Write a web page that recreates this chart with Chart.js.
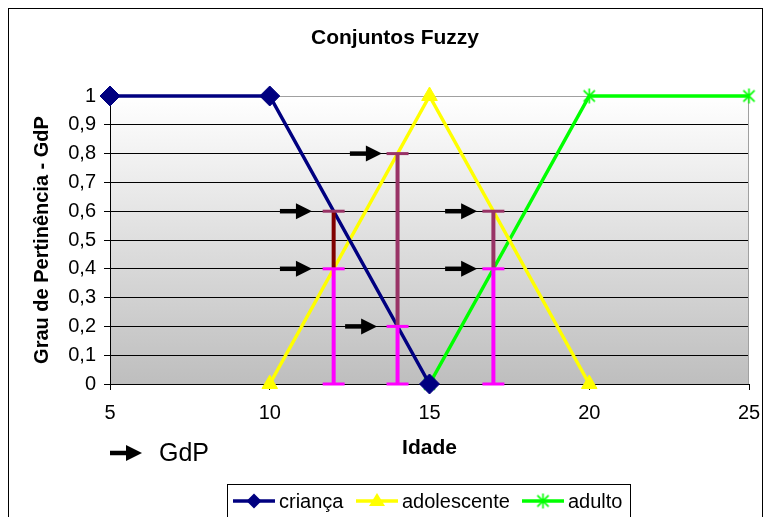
<!DOCTYPE html>
<html>
<head>
<meta charset="utf-8">
<script src="https://cdn.jsdelivr.net/npm/chart.js@4.4.1/dist/chart.umd.min.js"></script>
<style>
  html, body { margin: 0; padding: 0; background: #fff; }
  #wrap { width: 765px; height: 517px; position: relative; }
</style>
</head>
<body>
<div id="wrap"><canvas id="c" width="765" height="517"></canvas></div>
<script>
// Membership functions (age -> degree of membership)
const criancaX = [5, 10, 15];
const criancaY = [1, 1, 0];
const adolescenteX = [10, 15, 20];
const adolescenteY = [0, 1, 0];
const adultoX = [15, 20, 25];
const adultoY = [0, 1, 1];

// Axis ticks
const xTicks = [5, 10, 15, 20, 25];
const yTickLabels = ['0', '0,1', '0,2', '0,3', '0,4', '0,5', '0,6', '0,7', '0,8', '0,9', '1'];

// Degree-of-membership ranges shown at sample ages
const gdpAges = [12, 14, 17];
const gdpLower = [0.4, 0.2, 0.4];
const gdpUpper = [0.6, 0.8, 0.6];

// Arrow markers (tip age, degree)
const arrowTipX = [11.32, 11.32, 13.51, 13.36, 16.49, 16.49];
const arrowY = [0.6, 0.4, 0.8, 0.2, 0.6, 0.4];

const FONT = '"Liberation Sans", Arial, sans-serif';
const NAVY = '#000080', YELLOW = '#FFFF00', GREEN = '#00FF00';
const MAGENTA = '#FF00FF';
const upperColors = ['#800000', '#993366', '#993366'];
const upperCapColor = '#993366';

function toPoints(xs, ys) { return xs.map((x, i) => ({ x: x, y: ys[i] })); }

// asterisk marker: X plus vertical stroke
function makeStar(size, color) {
  const c = document.createElement('canvas');
  c.width = size; c.height = size;
  const g = c.getContext('2d');
  g.strokeStyle = color; g.lineWidth = 1.6;
  const m = size / 2, r = size / 2 - 1;
  g.beginPath();
  g.moveTo(m - r * 0.75, m - r * 0.75); g.lineTo(m + r * 0.75, m + r * 0.75);
  g.moveTo(m + r * 0.75, m - r * 0.75); g.lineTo(m - r * 0.75, m + r * 0.75);
  g.moveTo(m, m - r); g.lineTo(m, m + r);
  g.stroke();
  return c;
}
const starImg = makeStar(17, GREEN);

function drawArrow(ctx, tipX, y, len) {
  ctx.save();
  ctx.fillStyle = '#000';
  ctx.strokeStyle = '#000';
  ctx.lineWidth = 4.5;
  ctx.beginPath();
  ctx.moveTo(tipX - len, y);
  ctx.lineTo(tipX - 13, y);
  ctx.stroke();
  ctx.beginPath();
  ctx.moveTo(tipX, y);
  ctx.lineTo(tipX - 16, y - 8);
  ctx.lineTo(tipX - 16, y + 8);
  ctx.closePath();
  ctx.fill();
  ctx.restore();
}

const decorPlugin = {
  id: 'decor',
  beforeDraw(chart) {
    const { ctx, chartArea: a } = chart;
    ctx.save();
    const grad = ctx.createLinearGradient(0, a.top, 0, a.bottom);
    grad.addColorStop(0, '#FFFFFF');
    grad.addColorStop(1, '#BEBEBE');
    ctx.fillStyle = grad;
    ctx.fillRect(a.left, a.top, a.right - a.left, a.bottom - a.top);
    // outer frame
    ctx.strokeStyle = '#000';
    ctx.lineWidth = 1;
    ctx.strokeRect(8.5, 8.5, 754, 530);
    // title
    ctx.fillStyle = '#000';
    ctx.font = 'bold 21px ' + FONT;
    ctx.textAlign = 'center';
    ctx.textBaseline = 'middle';
    ctx.fillText('Conjuntos Fuzzy', 395, 38);
    ctx.restore();
  },
  beforeDatasetsDraw(chart) {
    const { ctx, chartArea: a } = chart;
    ctx.save();
    ctx.strokeStyle = '#A0A0A0';
    ctx.lineWidth = 1;
    ctx.beginPath();
    ctx.moveTo(Math.round(a.right) - 0.5, a.top);
    ctx.lineTo(Math.round(a.right) - 0.5, a.bottom);
    ctx.stroke();
    ctx.restore();
  },
  afterDatasetsDraw(chart) {
    const { ctx } = chart;
    const xs = chart.scales.x, ys = chart.scales.y;
    ctx.save();
    // range bars
    gdpAges.forEach((age, i) => {
      const px = xs.getPixelForValue(age);
      const p0 = ys.getPixelForValue(0);
      const pl = ys.getPixelForValue(gdpLower[i]);
      const pu = ys.getPixelForValue(gdpUpper[i]);
      ctx.lineWidth = 4;
      ctx.strokeStyle = upperColors[i];
      ctx.beginPath(); ctx.moveTo(px, pl); ctx.lineTo(px, pu); ctx.stroke();
      ctx.strokeStyle = MAGENTA;
      ctx.beginPath(); ctx.moveTo(px, p0); ctx.lineTo(px, pl); ctx.stroke();
      ctx.lineWidth = 3;
      const cap = (yy, col) => {
        ctx.strokeStyle = col;
        ctx.beginPath(); ctx.moveTo(px - 11, yy); ctx.lineTo(px + 11, yy); ctx.stroke();
      };
      cap(pu, upperCapColor);
      cap(pl, MAGENTA);
      cap(p0, MAGENTA);
    });
    // arrows
    arrowTipX.forEach((tx, i) => {
      drawArrow(ctx, xs.getPixelForValue(tx), ys.getPixelForValue(arrowY[i]), 32);
    });
    ctx.restore();
  },
  afterDraw(chart) {
    const { ctx, chartArea: a } = chart;
    ctx.save();
    // key for the arrows
    drawArrow(ctx, a.left + 32, 453, 32);
    ctx.fillStyle = '#000';
    ctx.font = '25px ' + FONT;
    ctx.textAlign = 'left';
    ctx.textBaseline = 'middle';
    ctx.fillText('GdP', 159, 454);

    // series legend
    ctx.strokeStyle = '#000';
    ctx.lineWidth = 1;
    ctx.strokeRect(227.5, 484.5, 403, 60);
    const ly = 501;
    ctx.font = '20px ' + FONT;
    const xStarts = [233, 356, 522];
    chart.data.datasets.forEach((ds, i) => {
      const x0 = xStarts[i];
      ctx.strokeStyle = ds.borderColor;
      ctx.lineWidth = 3.5;
      ctx.beginPath(); ctx.moveTo(x0, ly); ctx.lineTo(x0 + 42, ly); ctx.stroke();
      const cx = x0 + 21;
      ctx.fillStyle = ds.backgroundColor;
      if (i === 0) {
        ctx.beginPath();
        ctx.moveTo(cx, ly - 7.5); ctx.lineTo(cx + 7.5, ly); ctx.lineTo(cx, ly + 7.5); ctx.lineTo(cx - 7.5, ly);
        ctx.closePath(); ctx.fill();
      } else if (i === 1) {
        ctx.beginPath();
        ctx.moveTo(cx, ly - 8); ctx.lineTo(cx + 8, ly + 5); ctx.lineTo(cx - 8, ly + 5);
        ctx.closePath(); ctx.fill();
      } else {
        ctx.drawImage(starImg, cx - 8.5, ly - 8.5);
      }
      ctx.fillStyle = '#000';
      ctx.fillText(ds.label, x0 + 46, ly + 1);
    });
    ctx.restore();
  }
};

new Chart(document.getElementById('c'), {
  type: 'scatter',
  data: {
    datasets: [
      {
        label: 'criança',
        data: toPoints(criancaX, criancaY),
        showLine: true,
        borderColor: NAVY,
        backgroundColor: NAVY,
        borderWidth: 3.5,
        pointStyle: 'rectRot',
        pointRadius: 10,
        pointBorderWidth: 1,
        clip: false
      },
      {
        label: 'adolescente',
        data: toPoints(adolescenteX, adolescenteY),
        showLine: true,
        borderColor: YELLOW,
        backgroundColor: YELLOW,
        borderWidth: 3.5,
        pointStyle: 'triangle',
        pointRadius: 9,
        pointBorderWidth: 1,
        clip: false
      },
      {
        label: 'adulto',
        data: toPoints(adultoX, adultoY),
        showLine: true,
        borderColor: GREEN,
        backgroundColor: GREEN,
        borderWidth: 3.5,
        pointStyle: starImg,
        pointRadius: 8,
        clip: false
      }
    ]
  },
  options: {
    responsive: false,
    animation: false,
    devicePixelRatio: 1,
    events: [],
    layout: { padding: { left: 0, right: 16, top: 96, bottom: 53 } },
    plugins: {
      legend: { display: false },
      title: { display: false },
      tooltip: { enabled: false }
    },
    scales: {
      x: {
        type: 'linear',
        min: xTicks[0],
        max: xTicks[xTicks.length - 1],
        afterBuildTicks(scale) { scale.ticks = xTicks.map(v => ({ value: v })); },
        afterFit(scale) {
          scale.height = 80;
          scale.paddingLeft = 0;
          scale.paddingRight = 0;
        },
        ticks: {
          color: '#000',
          font: { family: FONT, size: 20 },
          padding: 11,
          maxRotation: 0,
          callback: (v) => String(v)
        },
        grid: { drawOnChartArea: false, drawTicks: true, tickLength: 6, tickColor: '#000', lineWidth: 1 },
        border: { display: true, color: '#000', width: 1 },
        title: {
          display: true,
          text: 'Idade',
          color: '#000',
          font: { family: FONT, size: 21, weight: 'bold' },
          padding: { top: 0, bottom: 3 }
        }
      },
      y: {
        type: 'linear',
        min: 0,
        max: 1,
        afterBuildTicks(scale) { scale.ticks = yTickLabels.map((_, i) => ({ value: i / 10 })); },
        afterFit(scale) {
          scale.width = 110;
          scale.paddingTop = 0;
          scale.paddingBottom = 0;
        },
        ticks: {
          color: '#000',
          font: { family: FONT, size: 20 },
          padding: 8,
          callback: (v, i) => yTickLabels[i]
        },
        grid: {
          drawTicks: true,
          tickLength: 6,
          tickColor: '#000',
          lineWidth: 1,
          color: (c) => (c.tick && c.tick.value === 1 ? '#A0A0A0' : '#000')
        },
        border: { display: true, color: '#000', width: 1 },
        title: {
          display: true,
          text: 'Grau de Pertinência - GdP',
          color: '#000',
          font: { family: FONT, size: 20, weight: 'bold' },
          padding: { top: 30, bottom: 0 }
        }
      }
    }
  },
  plugins: [decorPlugin]
});
</script>
</body>
</html>
